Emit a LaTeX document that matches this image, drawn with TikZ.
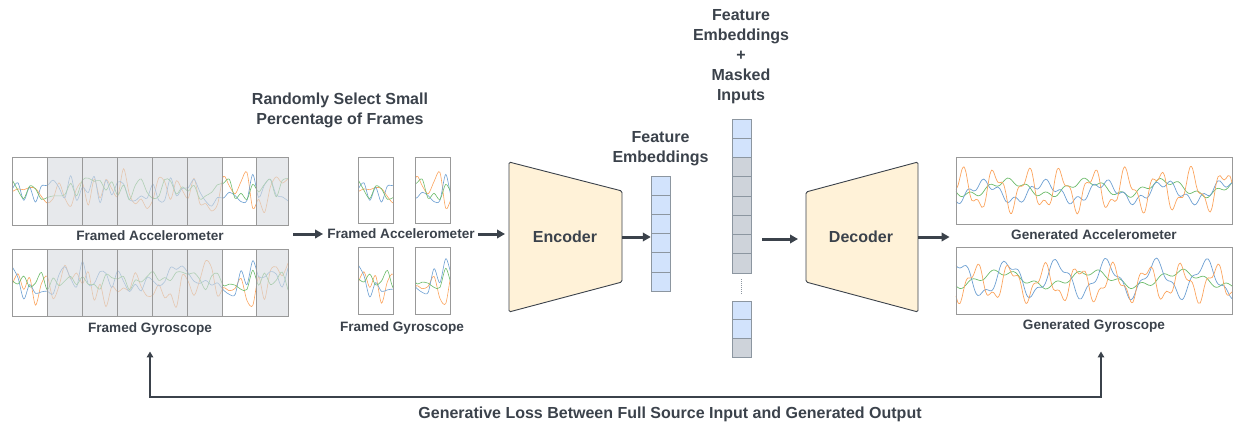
\documentclass[tikz,border=0pt]{standalone}
\usepackage{fontspec}
\setmainfont{Liberation Sans}
\usetikzlibrary{positioning,arrows.meta}

\definecolor{ink}{HTML}{3B424B}
\definecolor{boxline}{HTML}{999999}
\definecolor{framegray}{HTML}{D8DBE0}
\definecolor{cream}{HTML}{FFF2D8}
\definecolor{embblue}{HTML}{D2E3FC}
\definecolor{embgray}{HTML}{CED3DA}
\definecolor{embline}{HTML}{8C96A0}
\definecolor{sblue}{HTML}{6C9FD2}
\definecolor{sorange}{HTML}{FBA45E}
\definecolor{sgreen}{HTML}{6CBB6A}

% raw input signals (fixed seed, so the selected frames can reuse them)
\newcommand{\accwaves}{%
  \pgfmathsetseed{11}%
  \draw[wave, sorange] plot[domain=0:276] (\x+12, {191+20*rand+7*sin(6*\x)});
  \draw[wave, sblue] plot[domain=0:276] (\x+12, {192+14*rand+4*sin(4*\x)});
  \draw[wave, sgreen] plot[domain=0:276] (\x+12, {189+11*rand});
}
\newcommand{\gyrwaves}{%
  \pgfmathsetseed{5}%
  \draw[wave, sorange] plot[domain=0:276] (\x+12, {286+18*rand+8*sin(5*\x)});
  \draw[wave, sblue] plot[domain=0:276] (\x+12, {280+15*rand+6*sin(4*\x)});
  \draw[wave, sgreen] plot[domain=0:276] (\x+12, {280+10*rand});
}

\begin{document}
\begin{tikzpicture}[
  x=1pt, y=-1pt,
  wave/.style={line width=0.6pt, smooth, samples=48},
  genwave/.style={line width=0.7pt, smooth, samples=140},
  sigbox/.style={draw=boxline, line width=0.8pt, inner sep=0pt},
  divline/.style={draw=boxline, line width=0.6pt},
  lbl/.style={font=\fontsize{13.6}{16}\selectfont\bfseries, text=ink, inner sep=0pt},
  head/.style={font=\fontsize{16}{20}\selectfont\bfseries, text=ink, inner sep=0pt, align=center},
  coder/.style={draw=ink, fill=cream, line width=0.9pt, rounded corners=1.5pt},
  cellblue/.style={draw=embline, fill=embblue, line width=0.7pt},
  cellgray/.style={draw=embline, fill=embgray, line width=0.7pt},
  arr/.style={draw=ink, line width=3pt, -{Triangle[length=8pt,width=8.5pt]}},
  loss/.style={draw=ink, line width=2.6pt, {Triangle[length=6pt,width=6.5pt]}-{Triangle[length=6pt,width=6.5pt]}},
  ]
  \useasboundingbox (0,0) rectangle (1235,423);

  %% Input side: framed signals
  \begin{scope}
    \clip (12,157) rectangle (288,225);
    \accwaves
  \end{scope}
  \begin{scope}
    \clip (12,249) rectangle (288,316);
    \gyrwaves
  \end{scope}
  \foreach \a/\b in {47/222, 256/288} {
    \fill[framegray, fill opacity=.62] (\a,157) rectangle (\b,225);
    \fill[framegray, fill opacity=.62] (\a,249) rectangle (\b,316);
  }
  \foreach \d in {47,82,117,152,187,222,256} {
    \draw[divline] (\d,157) -- (\d,225);
    \draw[divline] (\d,249) -- (\d,316);
  }
  \node[sigbox, minimum width=276, minimum height=68] (accin) at (150,191) {};
  \node[sigbox, minimum width=276, minimum height=67] (gyrin) at (150,282.5) {};
  \node[lbl, below=5pt of accin] (accinlab) {Framed Accelerometer};
  \node[lbl, below=6pt of gyrin] (gyrinlab) {Framed Gyroscope};

  %% Selected frames
  \node[head] (seltitle) at (340,110) {Randomly Select Small\\Percentage of Frames};
  \foreach \xs/\x in {346/358, 193/415} {
    \begin{scope}
      \clip (\x,157) rectangle (\x+35,223);
      \begin{scope}[xshift=\xs pt] \accwaves \end{scope}
    \end{scope}
    \begin{scope}
      \clip (\x,247) rectangle (\x+35,314);
      \begin{scope}[xshift=\xs pt, yshift=2pt] \gyrwaves \end{scope}
    \end{scope}
  }
  \node[sigbox, minimum width=35, minimum height=66] (accsel1) at (375.5,190) {};
  \node[sigbox, minimum width=35, minimum height=66] (accsel2) at (432.5,190) {};
  \node[sigbox, minimum width=35, minimum height=67] (gyrsel1) at (375.5,280.5) {};
  \node[sigbox, minimum width=35, minimum height=67] (gyrsel2) at (432.5,280.5) {};
  \node[lbl] (selacclab) at (401,234) {Framed Accelerometer};
  \node[lbl] (selgyrlab) at (402,328) {Framed Gyroscope};

  %% Encoder
  \draw[coder] (509,162) -- (622,191) -- (622,282) -- (509,312) -- cycle;
  \coordinate (encL) at (509,234);
  \coordinate (encR) at (622,237);
  \node[head] (enc) at (565,237) {Encoder};

  % feature embeddings
  \node[inner sep=0pt, minimum width=19, minimum height=115] (fe) at (660.5,233.5) {};
  \foreach \i in {0,...,5}
    \draw[cellblue] (651,176+\i*19.17) rectangle ++(19,19.17);
  \node[head, above=10pt of fe] (felab) {Feature\\Embeddings};

  % feature embeddings + masked inputs
  \node[inner sep=0pt, minimum width=19, minimum height=154] (mk) at (741.5,196) {};
  \foreach \i in {0,1}
    \draw[cellblue] (732,119+\i*19.25) rectangle ++(19,19.25);
  \foreach \i in {2,...,7}
    \draw[cellgray] (732,119+\i*19.25) rectangle ++(19,19.25);
  \draw[embline, line width=0.9pt, dash pattern=on 1pt off 1pt] (741.5,279) -- (741.5,295);
  \foreach \i in {0,1}
    \draw[cellblue] (732,301+\i*18.7) rectangle ++(19,18.7);
  \draw[cellgray] (732,338.4) rectangle ++(19,18.7);
  \node[head] (mklab) at (741,57) {Feature\\Embeddings\\+\\Masked\\Inputs};

  %% Decoder
  \draw[coder] (806,192) -- (918,162) -- (918,312) -- (806,282) -- cycle;
  \coordinate (decL) at (806,239);
  \coordinate (decR) at (918,237);
  \node[head] (dec) at (861,237) {Decoder};

  %% Generated signals
  \draw[genwave, sgreen] plot[domain=0:276] (\x+956, {188+7*sin(4.6*\x+30)+3*sin(19*\x)});
  \draw[genwave, sblue] plot[domain=0:276] (\x+956, {192+9*sin(6*\x+100)+4*sin(23*\x)});
  \draw[genwave, sorange] plot[domain=0:276] (\x+956, {190+17*sin(11*\x+200)+7*sin(27*\x+50)});
  \draw[genwave, sgreen] plot[domain=0:276] (\x+956, {279+7*sin(4*\x+90)+3*sin(17*\x)});
  \draw[genwave, sblue] plot[domain=0:276] (\x+956, {279+16*sin(7.3*\x+250)+5*sin(21*\x+20)});
  \draw[genwave, sorange] plot[domain=0:276] (\x+956, {283+15*sin(10.5*\x+60)+6*sin(27*\x)});
  \node[sigbox, minimum width=276, minimum height=67] (genacc) at (1094,190.5) {};
  \node[sigbox, minimum width=276, minimum height=67] (gengyr) at (1094,280.5) {};
  \node[lbl, below=5pt of genacc] (genacclab) {Generated Accelerometer};
  \node[lbl, below=5pt of gengyr] (gengyrlab) {Generated Gyroscope};

  %% Arrows
  \draw[arr] ([xshift=5pt]accin.east |- selacclab) -- ([xshift=-4pt]selacclab.west);
  \draw[arr] ([xshift=3pt]selacclab.east) -- ([xshift=-4pt]encL);
  \draw[arr] (encR) -- (fe.west |- encR);
  \draw[arr] ([xshift=11pt]mk.east |- decL) -- ([xshift=-8pt]decL);
  \draw[arr] (decR) -- ([xshift=-6pt]genacc.west |- decR);

  % generative loss
  \coordinate (lossL) at ([yshift=-16pt]gyrinlab.south);
  \coordinate (lossR) at (gyrinlab.south -| 1101,0);
  \draw[loss] (lossL) -- (lossL |- 0,397) -- (1101,397) -- ([yshift=-16pt]lossR);
  \node[head] (losslab) at (670,414) {Generative Loss Between Full Source Input and Generated Output};
\end{tikzpicture}
\end{document}
